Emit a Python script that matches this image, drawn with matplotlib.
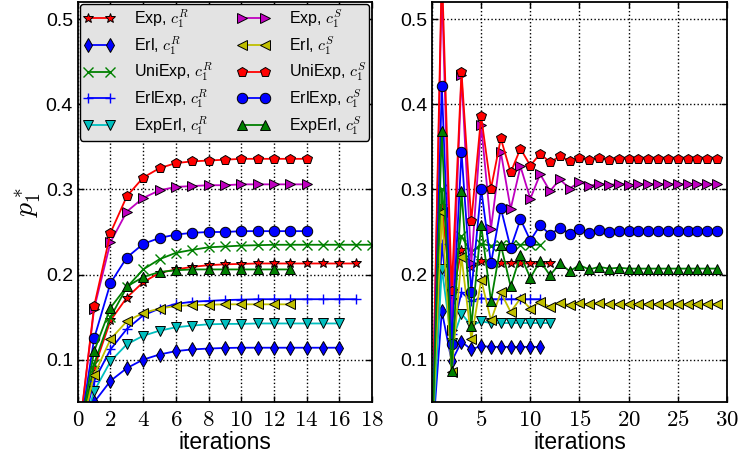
#!/usr/bin/env python3
import matplotlib
matplotlib.use('Agg')
import matplotlib.pyplot as plt
from matplotlib.ticker import FuncFormatter

plt.rcParams['font.family'] = ['Liberation Sans', 'DejaVu Sans']
plt.rcParams['mathtext.fontset'] = 'cm'

# left panel: monotone convergence
exp_R_L = [0, 0.09, 0.146, 0.173, 0.191, 0.202, 0.206, 0.209, 0.211, 0.212, 0.2125, 0.213, 0.213, 0.213, 0.213, 0.213, 0.213, 0.213]
erl_R_L = [0, 0.05, 0.075, 0.090, 0.100, 0.106, 0.110, 0.112, 0.113, 0.1137, 0.114, 0.114, 0.114, 0.114, 0.114, 0.114, 0.114]
uniexp_R_L = [0, 0.095, 0.150, 0.185, 0.206, 0.218, 0.2255, 0.229, 0.232, 0.233, 0.234, 0.2345, 0.235, 0.235, 0.235, 0.235, 0.235, 0.235, 0.235]
erlexp_R_L = [0, 0.075, 0.112, 0.136, 0.152, 0.160, 0.1655, 0.168, 0.169, 0.170, 0.1705, 0.171, 0.171, 0.171, 0.171, 0.171, 0.171, 0.171]
experl_R_L = [0, 0.063, 0.098, 0.118, 0.128, 0.134, 0.138, 0.140, 0.1415, 0.142, 0.142, 0.1425, 0.1425, 0.1425, 0.1425, 0.1425, 0.1425]
exp_S_L = [0, 0.16, 0.238, 0.274, 0.290, 0.299, 0.303, 0.304, 0.305, 0.305, 0.306, 0.306, 0.306, 0.306, 0.306]
erl_S_L = [0, 0.082, 0.124, 0.145, 0.155, 0.160, 0.163, 0.164, 0.1645, 0.165, 0.165, 0.165, 0.165, 0.165]
uniexp_S_L = [0, 0.163, 0.249, 0.292, 0.314, 0.325, 0.331, 0.333, 0.334, 0.335, 0.336, 0.336, 0.336, 0.336, 0.336]
erlexp_S_L = [0, 0.125, 0.190, 0.220, 0.236, 0.243, 0.247, 0.249, 0.250, 0.250, 0.251, 0.251, 0.251, 0.251, 0.251]
experl_S_L = [0, 0.110, 0.161, 0.186, 0.197, 0.203, 0.205, 0.206, 0.206, 0.206, 0.206, 0.206, 0.206, 0.206]

# right panel: oscillating convergence
exp_R_R = [0, 0.28, 0.17, 0.229, 0.209, 0.216, 0.213, 0.213, 0.213, 0.213, 0.213, 0.213, 0.213]
erl_R_R = [0, 0.157, 0.098, 0.121, 0.112, 0.116, 0.115, 0.115, 0.115, 0.115, 0.115, 0.115]
uniexp_R_R = [0, 0.30, 0.19, 0.245, 0.226, 0.236, 0.234, 0.235, 0.235, 0.235, 0.235, 0.235]
erlexp_R_R = [0, 0.236, 0.13, 0.179, 0.169, 0.172, 0.171, 0.171, 0.171, 0.171, 0.171, 0.171]
experl_R_R = [0, 0.207, 0.12, 0.154, 0.140, 0.145, 0.143, 0.143, 0.143, 0.143, 0.143, 0.143, 0.143]
exp_S_R = [0, 0.54, 0.135, 0.434, 0.213, 0.376, 0.254, 0.344, 0.277, 0.327, 0.289, 0.318, 0.298, 0.312, 0.301,
           0.309, 0.304, 0.307, 0.305, 0.307, 0.305, 0.306, 0.306, 0.306, 0.306, 0.306, 0.306, 0.306, 0.306, 0.306]
erl_S_R = [0, 0.274, 0.085, 0.221, 0.124, 0.194, 0.146, 0.179, 0.156, 0.172, 0.160, 0.168, 0.162, 0.167, 0.164,
           0.166, 0.165, 0.166, 0.165, 0.165, 0.165, 0.165, 0.165, 0.165, 0.165, 0.165, 0.165, 0.165, 0.165, 0.165]
uniexp_S_R = [0, 0.56, 0.181, 0.438, 0.263, 0.386, 0.301, 0.360, 0.320, 0.348, 0.328, 0.342, 0.332, 0.339, 0.334,
              0.337, 0.335, 0.337, 0.335, 0.336, 0.336, 0.336, 0.336, 0.336, 0.336, 0.336, 0.336, 0.336, 0.336, 0.336]
erlexp_S_R = [0, 0.422, 0.118, 0.344, 0.180, 0.301, 0.213, 0.278, 0.231, 0.265, 0.240, 0.258, 0.247, 0.255, 0.248,
              0.253, 0.249, 0.252, 0.250, 0.251, 0.251, 0.251, 0.251, 0.251, 0.251, 0.251, 0.251, 0.251, 0.251, 0.251]
experl_S_R = [0, 0.369, 0.087, 0.298, 0.139, 0.258, 0.169, 0.235, 0.186, 0.223, 0.196, 0.216, 0.199, 0.213, 0.204,
              0.211, 0.206, 0.209, 0.207, 0.208, 0.207, 0.207, 0.207, 0.207, 0.207, 0.207, 0.207, 0.207, 0.207, 0.207]

names = ['Exp', 'Erl', 'UniExp', 'ErlExp', 'ExpErl']
colors_R = ['r', 'b', 'g', 'b', 'c']
markers_R = ['*', 'd', 'x', '+', 'v']
colors_S = ['m', 'y', 'r', 'b', 'g']
markers_S = ['>', '<', 'p', 'o', '^']

left_R = [exp_R_L, erl_R_L, uniexp_R_L, erlexp_R_L, experl_R_L]
left_S = [exp_S_L, erl_S_L, uniexp_S_L, erlexp_S_L, experl_S_L]
right_R = [exp_R_R, erl_R_R, uniexp_R_R, erlexp_R_R, experl_R_R]
right_S = [exp_S_R, erl_S_R, uniexp_S_R, erlexp_S_R, experl_S_R]

# old-style matplotlib single letter colours
classic = {'r': (1, 0, 0), 'b': (0, 0, 1), 'g': (0, 0.5, 0), 'c': (0, 0.75, 0.75),
           'm': (0.75, 0, 0.75), 'y': (0.75, 0.75, 0)}

fig = plt.figure(figsize=(7.41, 4.57), dpi=100)
axL = fig.add_axes((0.105, 0.12, 0.397, 0.875))
axR = fig.add_axes((0.583, 0.12, 0.398, 0.875))


def draw(ax, Rs, Ss):
    handles = []
    series = [(d, c, m, n, 'R') for d, c, m, n in zip(Rs, colors_R, markers_R, names)] + \
             [(d, c, m, n, 'S') for d, c, m, n in zip(Ss, colors_S, markers_S, names)]
    for data, c, m, n, sup in series:
        col = classic[c]
        if m in ('x', '+'):
            mec = col
            mew = 1.0
        else:
            mec = 'k'
            mew = 0.7
        h, = ax.plot(range(len(data)), data, color=col, marker=m, markersize=7.5,
                     markerfacecolor=col, markeredgecolor=mec, markeredgewidth=mew,
                     linewidth=1.3, label=n + r', $c_1^' + sup + '$')
        handles.append(h)
    ax.set_ylim(0.05, 0.52)
    ax.set_yticks([0.1, 0.2, 0.3, 0.4, 0.5])
    ax.grid(True, color='k', linestyle=':', linewidth=1.0)
    ax.tick_params(direction='in', top=True, right=True, length=4, width=1, labelsize=14)
    ax.tick_params(axis='x', labelsize=16.5, pad=4)
    ax.xaxis.set_major_formatter(FuncFormatter(lambda v, p: r'$%d$' % v))
    ax.set_xlabel('iterations', fontsize=16.5, labelpad=0)
    for s in ax.spines.values():
        s.set_linewidth(1.3)
    return handles


hL = draw(axL, left_R, left_S)
axL.set_xlim(0, 18)
axL.set_xticks(range(0, 19, 2))
axL.set_ylabel(r'$p_1^*$', fontsize=20, labelpad=2)

draw(axR, right_R, right_S)
axR.set_xlim(0, 30)
axR.set_xticks(range(0, 31, 5))

leg = axL.legend(handles=hL, loc='upper left', ncol=2, mode='expand',
                 bbox_to_anchor=(0.006, 0.996, 0.985, 0), borderaxespad=0,
                 fontsize=11.5, numpoints=2,
                 handlelength=2.0, handletextpad=1.2, labelspacing=0.28,
                 borderpad=0.2, fancybox=True, framealpha=1)
leg.get_frame().set_facecolor('#e3e3e3')
leg.get_frame().set_edgecolor('k')
leg.get_frame().set_linewidth(1.0)

fig.savefig('out.png', dpi=100)
